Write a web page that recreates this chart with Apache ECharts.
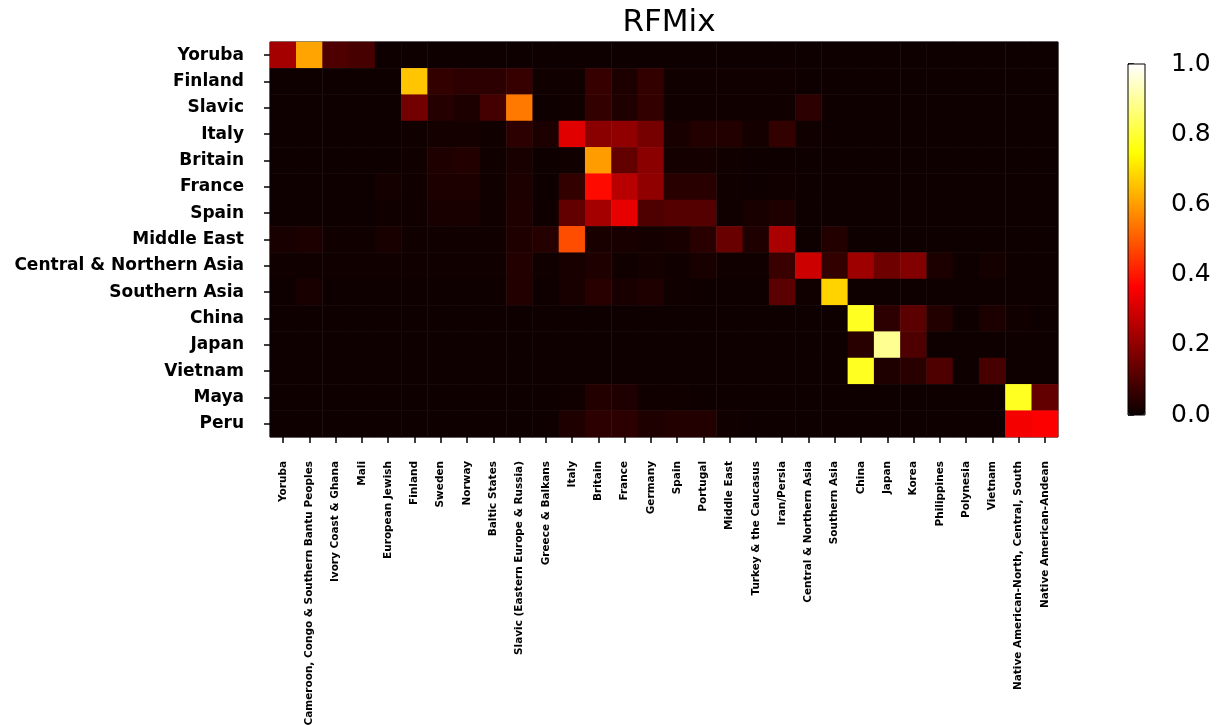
<!DOCTYPE html>
<html>
<head>
<meta charset="utf-8">
<script src="https://cdn.jsdelivr.net/npm/echarts@6/dist/echarts.min.js"></script>
<style>
html,body{margin:0;padding:0;background:#fff;}
#chart{width:1220px;height:725px;}
</style>
</head>
<body>
<div id="chart"></div>
<script>
const rowLabels = ["Yoruba","Finland","Slavic","Italy","Britain","France","Spain","Middle East","Central & Northern Asia","Southern Asia","China","Japan","Vietnam","Maya","Peru"];
const colLabels = ["Yoruba","Cameroon, Congo & Southern Bantu Peoples","Ivory Coast & Ghana","Mali","European Jewish","Finland","Sweden","Norway","Baltic States","Slavic (Eastern Europe & Russia)","Greece & Balkans","Italy","Britain","France","Germany","Spain","Portugal","Middle East","Turkey & the Caucasus","Iran/Persia","Central & Northern Asia","Southern Asia","China","Japan","Korea","Philippines","Polynesia","Vietnam","Native American-North, Central, South","Native American-Andean"];
const colorbarTicks = [0, 0.2, 0.4, 0.6, 0.8, 1.0];

// one row per reference population (rows), columns follow colLabels
const values = [
  [0.23,0.61,0.10,0.09,0.005,0.005,0.005,0.005,0.005,0.005,0.005,0.005,0.005,0.005,0.005,0.005,0.005,0.005,0.005,0.005,0.005,0.005,0.005,0.005,0.005,0.005,0.005,0.005,0.005,0.005],
  [0.005,0.005,0.005,0.005,0.005,0.66,0.06,0.05,0.05,0.065,0.01,0.01,0.065,0.025,0.06,0.01,0.01,0.01,0.01,0.01,0.005,0.005,0.005,0.005,0.005,0.005,0.005,0.005,0.005,0.005],
  [0.005,0.005,0.005,0.005,0.005,0.155,0.04,0.025,0.085,0.545,0.005,0.01,0.06,0.03,0.06,0.01,0.01,0.01,0.01,0.01,0.05,0.005,0.005,0.005,0.005,0.005,0.005,0.005,0.005,0.005],
  [0.005,0.005,0.005,0.005,0.005,0.01,0.015,0.015,0.01,0.05,0.025,0.32,0.19,0.2,0.16,0.02,0.035,0.035,0.015,0.06,0.01,0.005,0.005,0.005,0.005,0.005,0.005,0.005,0.005,0.005],
  [0.005,0.005,0.005,0.005,0.005,0.01,0.03,0.035,0.01,0.02,0.005,0.01,0.6,0.13,0.19,0.015,0.015,0.01,0.005,0.005,0.005,0.005,0.005,0.005,0.005,0.005,0.005,0.005,0.005,0.005],
  [0.005,0.005,0.005,0.005,0.015,0.01,0.025,0.025,0.01,0.025,0.005,0.06,0.38,0.26,0.2,0.045,0.045,0.01,0.005,0.01,0.005,0.005,0.005,0.005,0.005,0.005,0.005,0.005,0.005,0.005],
  [0.005,0.005,0.005,0.005,0.01,0.01,0.02,0.02,0.01,0.03,0.005,0.13,0.23,0.33,0.1,0.11,0.11,0.01,0.02,0.03,0.005,0.005,0.005,0.005,0.005,0.005,0.005,0.005,0.005,0.005],
  [0.02,0.025,0.01,0.01,0.02,0.01,0.01,0.01,0.01,0.03,0.04,0.48,0.02,0.02,0.015,0.02,0.045,0.14,0.03,0.24,0.005,0.035,0.005,0.005,0.005,0.005,0.005,0.005,0.005,0.005],
  [0.01,0.01,0.01,0.01,0.01,0.01,0.01,0.01,0.01,0.035,0.01,0.02,0.03,0.01,0.015,0.01,0.02,0.01,0.01,0.07,0.29,0.06,0.22,0.15,0.18,0.025,0.005,0.015,0.005,0.005],
  [0.005,0.02,0.005,0.005,0.005,0.005,0.005,0.005,0.005,0.035,0.005,0.02,0.045,0.02,0.03,0.01,0.005,0.005,0.005,0.12,0.01,0.68,0.005,0.005,0.005,0.005,0.005,0.005,0.005,0.005],
  [0.005,0.005,0.005,0.005,0.005,0.005,0.005,0.005,0.005,0.005,0.005,0.005,0.005,0.005,0.005,0.005,0.005,0.005,0.005,0.005,0.005,0.005,0.78,0.05,0.12,0.035,0.005,0.025,0.01,0.005],
  [0.005,0.005,0.005,0.005,0.005,0.005,0.005,0.005,0.005,0.005,0.005,0.005,0.005,0.005,0.005,0.005,0.005,0.005,0.005,0.005,0.005,0.005,0.045,0.89,0.1,0.005,0.005,0.005,0.005,0.005],
  [0.005,0.005,0.005,0.005,0.005,0.005,0.005,0.005,0.005,0.005,0.005,0.005,0.005,0.005,0.005,0.005,0.005,0.005,0.005,0.005,0.005,0.005,0.78,0.03,0.045,0.1,0.005,0.09,0.005,0.005],
  [0.005,0.005,0.005,0.005,0.005,0.005,0.005,0.005,0.005,0.005,0.005,0.01,0.035,0.03,0.01,0.01,0.005,0.005,0.005,0.005,0.005,0.005,0.005,0.005,0.005,0.005,0.005,0.005,0.78,0.13],
  [0.005,0.005,0.005,0.005,0.005,0.005,0.005,0.005,0.005,0.005,0.005,0.03,0.05,0.05,0.03,0.035,0.035,0.01,0.005,0.005,0.005,0.005,0.005,0.005,0.005,0.005,0.005,0.005,0.35,0.36]
];

// matplotlib "hot" colormap
function hot(t){
  const r = t < 0.365079 ? 0.0416 + (1-0.0416)*t/0.365079 : 1;
  const g = t < 0.365079 ? 0 : (t < 0.746032 ? (t-0.365079)/(0.746032-0.365079) : 1);
  const b = t < 0.746032 ? 0 : (t-0.746032)/(1-0.746032);
  const h = v => Math.round(Math.max(0,Math.min(1,v))*255).toString(16).padStart(2,'0');
  return '#' + h(r) + h(g) + h(b);
}
const hotColors = [];
for (let i = 0; i <= 100; i++) hotColors.push(hot(i/100));

const heatData = [];
values.forEach((row, y) => row.forEach((v, x) => heatData.push([x, y, v])));

const FONT = 'DejaVu Sans';
const chart = echarts.init(document.getElementById('chart'), null, {renderer: 'canvas'});
chart.setOption({
  animation: false,
  backgroundColor: '#fff',
  title: {
    text: 'RFMix',
    left: 664, top: 2, textAlign: 'center',
    textStyle: {fontFamily: FONT, fontSize: 31, fontWeight: 'normal', color: '#000'}
  },
  grid: [
    {left: 270, top: 42, width: 788, height: 395, show: true, borderColor: '#000', borderWidth: 1, backgroundColor: 'transparent', containLabel: false, outerBoundsMode: 'none'},
    {left: 1128, top: 64, width: 17, height: 351, show: true, borderColor: '#000', borderWidth: 1, backgroundColor: 'transparent', z: 10, containLabel: false, outerBoundsMode: 'none'}
  ],
  xAxis: [
    {
      type: 'category', data: colLabels, gridIndex: 0,
      axisLine: {show: false},
      axisTick: {show: true, alignWithLabel: true, interval: 0, length: 6, lineStyle: {color: '#000', width: 1.5}},
      axisLabel: {interval: 0, rotate: 90, margin: 24, fontFamily: FONT, fontSize: 10.5, fontWeight: 'bold', color: '#000'},
      splitLine: {show: false}
    },
    {type: 'value', gridIndex: 1, show: false, min: 0, max: 1}
  ],
  yAxis: [
    {
      type: 'category', data: rowLabels, gridIndex: 0, inverse: true,
      axisLine: {show: false},
      axisTick: {show: true, alignWithLabel: true, interval: 0, length: 6, lineStyle: {color: '#000', width: 1.5}},
      axisLabel: {interval: 0, margin: 26, fontFamily: FONT, fontSize: 17, fontWeight: 'bold', color: '#000'},
      splitLine: {show: false}
    },
    {
      type: 'value', gridIndex: 1, position: 'right', min: 0, max: 1, interval: 0.2,
      axisLine: {show: false},
      axisTick: {show: true, length: 6, lineStyle: {color: '#000', width: 1.5}},
      axisLabel: {margin: 26, fontFamily: FONT, fontSize: 25, color: '#000', formatter: v => colorbarTicks.includes(+v.toFixed(1)) ? v.toFixed(1) : ''},
      splitLine: {show: false}
    }
  ],
  visualMap: {
    type: 'continuous', min: 0, max: 1, calculable: false, show: true,
    seriesIndex: 0, left: 1128, top: 64, itemWidth: 17, itemHeight: 351, padding: 0,
    inRange: {color: hotColors}, textStyle: {color: 'transparent'}, text: ['', '']
  },
  series: [
    {type: 'heatmap', xAxisIndex: 0, yAxisIndex: 0, data: heatData, emphasis: {disabled: true}, progressive: 0},
    {type: 'scatter', xAxisIndex: 1, yAxisIndex: 1, data: [], silent: true}
  ]
});
</script>
</body>
</html>
